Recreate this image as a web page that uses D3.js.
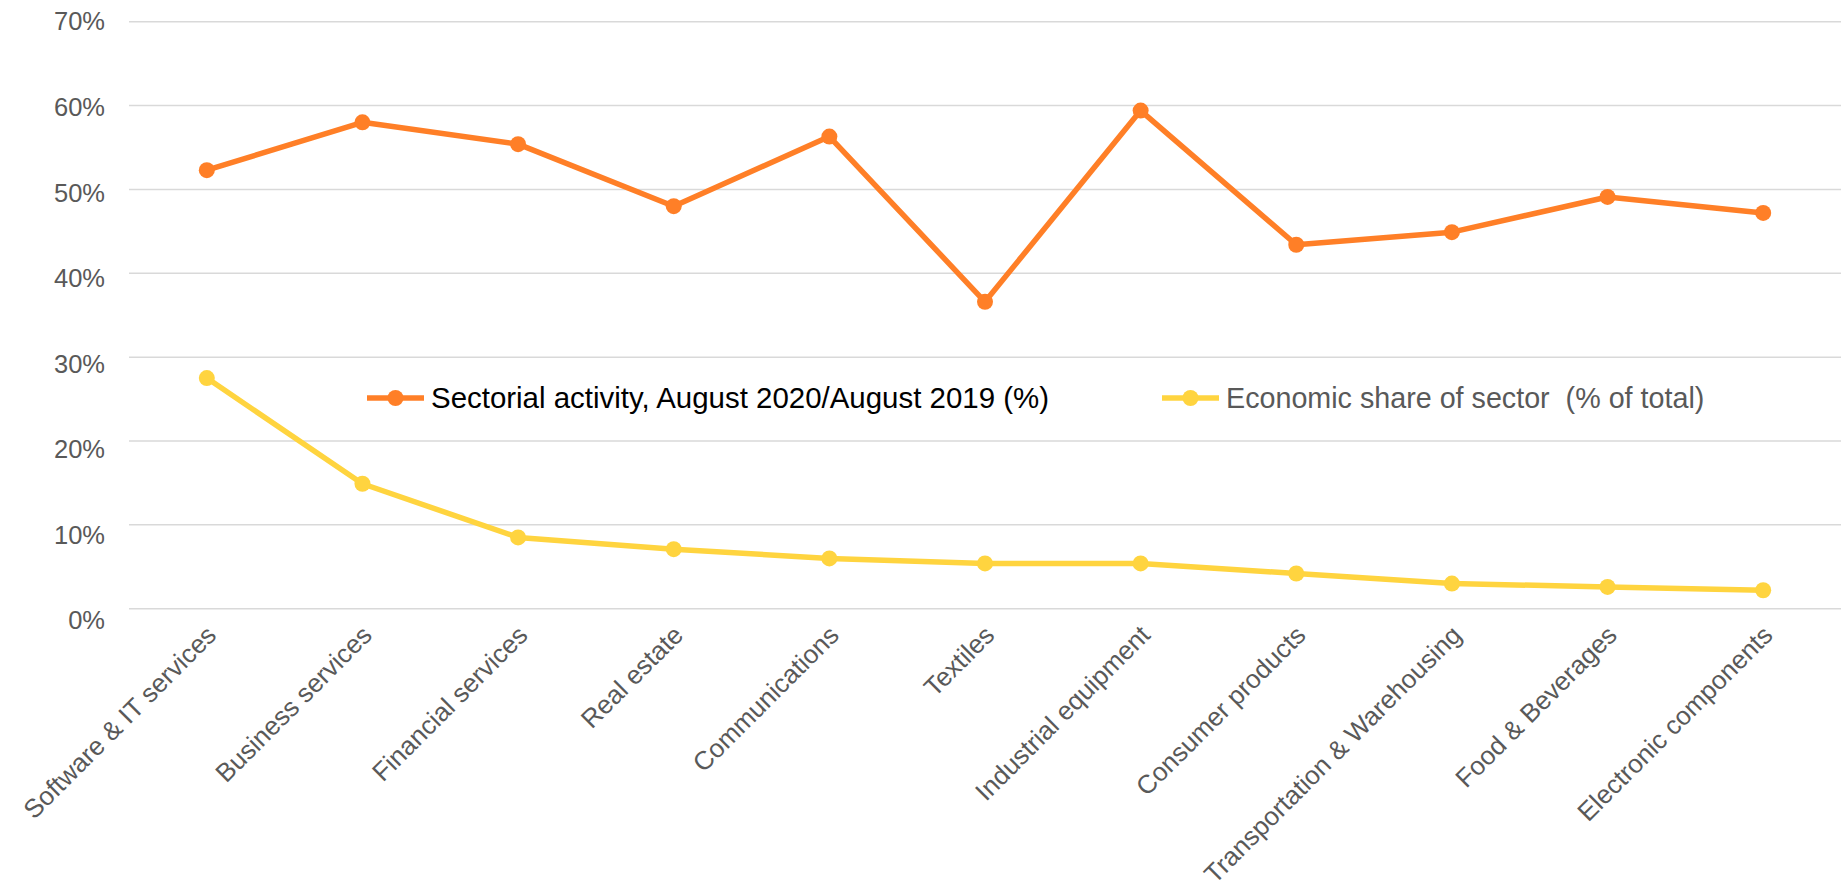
<!DOCTYPE html>
<html>
<head>
<meta charset="utf-8">
<script src="https://cdn.jsdelivr.net/npm/d3@7"></script>
<style>
  html, body { margin: 0; padding: 0; background: #ffffff; }
  svg { display: block; font-family: "Liberation Sans", Arial, sans-serif; }
</style>
</head>
<body>
<svg id="chart" width="1841" height="891"></svg>
<script>
const categories = [
  "Software & IT services", "Business services", "Financial services", "Real estate",
  "Communications", "Textiles", "Industrial equipment", "Consumer products",
  "Transportation & Warehousing", "Food & Beverages", "Electronic components"
];
const sectorialActivity = [52.3, 58.0, 55.4, 48.0, 56.3, 36.6, 59.4, 43.4, 44.9, 49.1, 47.2];
const economicShare = [27.5, 14.9, 8.5, 7.1, 6.0, 5.4, 5.4, 4.2, 3.0, 2.6, 2.2];
const yTicks = [0, 10, 20, 30, 40, 50, 60, 70];
const seriesNames = ["Sectorial activity, August 2020/August 2019 (%)", "Economic share of sector  (% of total)"];

const plotLeft = 129, plotRight = 1841, plotTop = 21.7, plotBottom = 608.7;

const svg = d3.select("#chart");
const x = d3.scaleBand().domain(categories).range([plotLeft, plotRight]).padding(0);
const y = d3.scaleLinear().domain([0, 70]).range([plotBottom, plotTop]);
// tick labels in the reference sit on a slightly wider spacing than the gridlines
const yLabel = d3.scaleLinear().domain([0, 70]).range([620, 21]);

// gridlines
svg.append("g").selectAll("line").data(yTicks).join("line")
  .attr("x1", plotLeft).attr("x2", plotRight)
  .attr("y1", d => y(d)).attr("y2", d => y(d))
  .attr("stroke", "#d9d9d9").attr("stroke-width", 1.5);

// y axis
const yAxis = svg.append("g").attr("transform", `translate(${plotLeft - 24},0)`)
  .call(d3.axisLeft(yLabel).tickValues(yTicks).tickSize(0).tickPadding(0).tickFormat(d => d + "%"));
yAxis.select(".domain").remove();
yAxis.selectAll("text").attr("fill", "#595959").style("font-size", "25.5px")
  .style("font-family", '"Liberation Sans", Arial, sans-serif').attr("dy", "0.35em");

// x axis
const xAxis = svg.append("g").attr("transform", `translate(0,${plotBottom})`)
  .call(d3.axisBottom(x).tickSize(0).tickPadding(0));
xAxis.select(".domain").remove();
xAxis.selectAll("text")
  .attr("fill", "#595959").style("font-size", "26px")
  .style("font-family", '"Liberation Sans", Arial, sans-serif')
  .attr("text-anchor", "end")
  .attr("y", 0).attr("dy", 0)
  .attr("transform", "translate(11,28) rotate(-45)");

const cx = (d, i) => x(categories[i]) + x.bandwidth() / 2;

const series = [
  { values: sectorialActivity, color: "#FF7F27" },
  { values: economicShare, color: "#FFD43F" }
];

series.forEach(s => {
  const line = d3.line().x((d, i) => cx(d, i)).y(d => y(d));
  svg.append("path").datum(s.values)
    .attr("d", line).attr("fill", "none")
    .attr("stroke", s.color).attr("stroke-width", 5.5)
    .attr("stroke-linejoin", "round");
  svg.append("g").selectAll("circle").data(s.values).join("circle")
    .attr("cx", (d, i) => cx(d, i)).attr("cy", d => y(d))
    .attr("r", 8).attr("fill", s.color);
});

// legend
const legendItems = [
  { name: seriesNames[0], color: "#FF7F27", textColor: "#000000", x0: 367, fs: 29.45 },
  { name: seriesNames[1], color: "#FFD43F", textColor: "#595959", x0: 1162, fs: 28.7 }
];
const ly = 398;
legendItems.forEach(it => {
  const g = svg.append("g");
  g.append("line").attr("x1", it.x0).attr("x2", it.x0 + 57)
    .attr("y1", ly).attr("y2", ly).attr("stroke", it.color).attr("stroke-width", 5.5);
  g.append("circle").attr("cx", it.x0 + 28.5).attr("cy", ly).attr("r", 8).attr("fill", it.color);
  g.append("text").attr("x", it.x0 + 64).attr("y", ly).attr("dy", "0.35em")
    .attr("fill", it.textColor).style("font-size", it.fs + "px")
    .style("white-space", "pre")
    .text(it.name);
});
</script>
</body>
</html>
